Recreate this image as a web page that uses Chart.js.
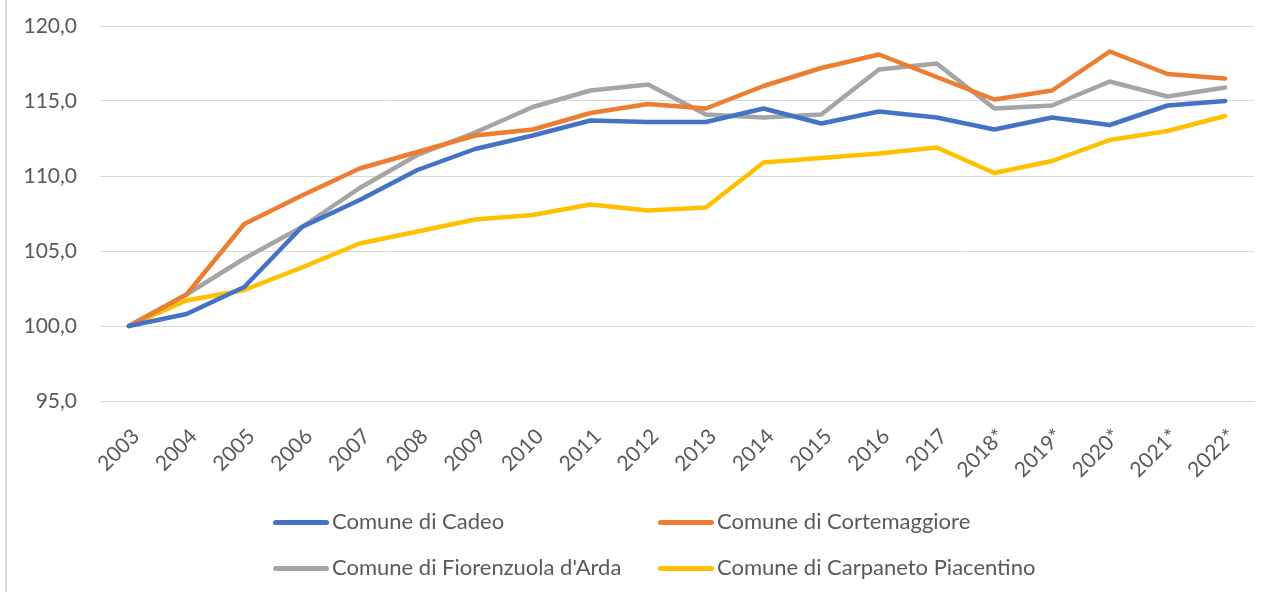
<!DOCTYPE html>
<html>
<head>
<meta charset="utf-8">
<script src="https://cdn.jsdelivr.net/npm/chart.js@4"></script>
<style>
  html, body { margin: 0; padding: 0; background: #fff; overflow: hidden; }
  #wrap { position: relative; width: 1266px; height: 592px; }
  #frame { position: absolute; left: 5px; top: 0; width: 2px; height: 592px; background: #d9d9d9; }
  #legend { position: absolute; left: 273px; top: 506px; width: 800px; font-family: Lato, sans-serif; font-size: 22px; color: #595959; }
  #legend .item { position: absolute; white-space: nowrap; height: 30px; line-height: 30px; }
  #legend .line { display: inline-block; width: 56px; height: 5px; border-radius: 3px; vertical-align: middle; margin-right: 3px; position: relative; top: -1px; }
</style>
</head>
<body>
<div id="wrap">
  <canvas id="myChart" width="1266" height="592"></canvas>
  <div id="frame"></div>
  <div id="legend"></div>
</div>
<script>
const years = ["2003","2004","2005","2006","2007","2008","2009","2010","2011","2012",
  "2013","2014","2015","2016","2017","2018*","2019*","2020*","2021*","2022*"];

const cadeo = [100.0,100.8,102.6,106.6,108.4,110.4,111.8,112.7,113.7,113.6,
  113.6,114.5,113.5,114.3,113.9,113.1,113.9,113.4,114.7,115.0];
const cortemaggiore = [100.0,102.1,106.8,108.7,110.5,111.6,112.7,113.1,114.2,114.8,
  114.5,116.0,117.2,118.1,116.6,115.1,115.7,118.3,116.8,116.5];
const fiorenzuola = [100.0,102.1,104.5,106.6,109.2,111.4,112.9,114.6,115.7,116.1,
  114.1,113.9,114.1,117.1,117.5,114.5,114.7,116.3,115.3,115.9];
const carpaneto = [100.0,101.7,102.4,103.9,105.5,106.3,107.1,107.4,108.1,107.7,
  107.9,110.9,111.2,111.5,111.9,110.2,111.0,112.4,113.0,114.0];

const names = ["Comune di Cadeo","Comune di Cortemaggiore","Comune di Fiorenzuola d'Arda","Comune di Carpaneto Piacentino"];
const colors = ["#4472C4","#ED7D31","#A5A5A5","#FFC000"];
const series = [cadeo, cortemaggiore, fiorenzuola, carpaneto];

const txt = "#595959";
const fontFam = "Lato, sans-serif";

function makeSet(i){
  return {
    label: names[i],
    data: series[i],
    borderColor: colors[i],
    backgroundColor: colors[i],
    borderWidth: 4.5,
    borderCapStyle: "round",
    borderJoinStyle: "round",
    pointRadius: 0,
    tension: 0,
    fill: false
  };
}

const ctx = document.getElementById("myChart").getContext("2d");
const myChart = new Chart(ctx, {
  type: "line",
  data: {
    labels: years,
    datasets: series.map((s, i) => makeSet(i))
  },
  options: {
    responsive: false,
    animation: false,
    layout: { padding: { top: 26, left: 0, right: 0, bottom: 0 } },
    plugins: { legend: { display: false }, tooltip: { enabled: false } },
    scales: {
      x: {
        offset: true,
        grid: { display: false, drawTicks: false },
        border: { display: true, color: "#d9d9d9", width: 1 },
        ticks: {
          color: txt, font: { family: fontFam, size: 21 },
          minRotation: 45, maxRotation: 45, padding: 23, labelOffset: 7, autoSkip: false
        },
        afterFit: function(scale){ scale.height = 592 - 401; }
      },
      y: {
        min: 95, max: 120,
        grid: { color: "#d9d9d9", lineWidth: 1, drawTicks: false },
        border: { display: false },
        ticks: {
          stepSize: 5, color: txt, font: { family: fontFam, size: 21 }, padding: 23,
          callback: (v) => v.toFixed(1).replace(".", ",")
        },
        afterFit: function(scale){
          scale.width = 100;
          // tick padding is only meant to push labels left, not to shrink the plot
          scale.paddingTop = 12;
          scale.paddingBottom = 12;
        }
      }
    }
  }
});

// legend in two columns, like the original
const legend = document.getElementById("legend");
myChart.data.datasets.forEach(function(ds, i){
  const el = document.createElement("div");
  el.className = "item";
  el.style.left = (i % 2) * 385 + "px";
  el.style.top = Math.floor(i / 2) * 46 + "px";
  el.innerHTML = '<span class="line" style="background:' + ds.borderColor + '"></span>' + ds.label;
  legend.appendChild(el);
});
</script>
</body>
</html>
